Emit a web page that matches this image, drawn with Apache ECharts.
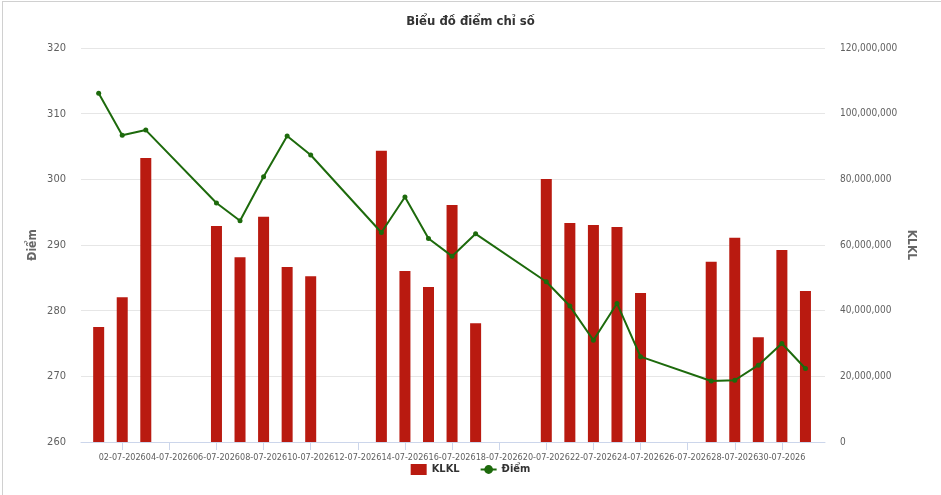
<!DOCTYPE html>
<html>
<head>
<meta charset="utf-8">
<script src="https://cdn.jsdelivr.net/npm/echarts@6/dist/echarts.min.js"></script>
<style>
  html, body { margin: 0; padding: 0; background: #fff; }
  #main { position: absolute; left: 0; top: 0; width: 941px; height: 495px; }
  .edge { position: absolute; background: #d0d0d0; }
</style>
</head>
<body>
<div id="main"></div>
<div class="edge" style="left:2px;top:1px;width:939px;height:1px;"></div>
<div class="edge" style="left:2px;top:1px;width:1px;height:494px;"></div>
<script type="text/javascript">
    // ngày giao dịch
    var dates = ['01-07-2026', '02-07-2026', '03-07-2026', '06-07-2026', '07-07-2026', '08-07-2026',
        '09-07-2026', '10-07-2026', '13-07-2026', '14-07-2026', '15-07-2026', '16-07-2026',
        '17-07-2026', '20-07-2026', '21-07-2026', '22-07-2026', '23-07-2026', '24-07-2026',
        '27-07-2026', '28-07-2026', '29-07-2026', '30-07-2026', '31-07-2026'];
    // khối lượng khớp lệnh
    var klkl = [35000000, 44100000, 86500000, 65800000, 56300000, 68600000,
        53300000, 50500000, 88700000, 52100000, 47200000, 72200000,
        36200000, 80100000, 66700000, 66100000, 65500000, 45400000,
        54900000, 62200000, 31900000, 58500000, 46000000];
    // điểm chỉ số
    var diem = [313.1, 306.7, 307.5, 296.4, 293.7, 300.4,
        306.6, 303.7, 291.9, 297.3, 291.0, 288.3,
        291.7, 284.4, 280.7, 275.5, 281.1, 273.0,
        269.3, 269.4, 271.7, 275.0, 271.2];
    // nhãn trục x (ngày chẵn)
    var tickDays = [2, 4, 6, 8, 10, 12, 14, 16, 18, 20, 22, 24, 26, 28, 30];

    var dayOf = function (s) { return parseInt(s.split('-')[0], 10); };
    var pad = function (n) { return (n < 10 ? '0' : '') + n; };

    var barData = [], lineData = [];
    for (var i = 0; i < dates.length; i++) {
        barData.push([dayOf(dates[i]), klkl[i]]);
        lineData.push([dayOf(dates[i]), diem[i]]);
    }

    var font = '"DejaVu Sans Condensed", "Liberation Sans Narrow", "Noto Sans", sans-serif';
    var myChart = echarts.init(document.getElementById('main'));

    var option = {
        animation: false,
        textStyle: { fontFamily: font },
        title: {
            text: 'Biểu đồ điểm chỉ số',
            left: 'center',
            top: 10,
            textStyle: { fontFamily: font, fontSize: 13, fontWeight: 'bold', color: '#333333' }
        },
        legend: {
            bottom: 15,
            left: 'center',
            itemGap: 20,
            itemWidth: 16,
            itemHeight: 11,
            textStyle: { fontFamily: font, fontSize: 11, fontWeight: 'bold', color: '#333333' },
            data: [
                { name: 'KLKL', icon: 'rect' },
                { name: 'Điểm' }
            ]
        },
        grid: { left: 81, right: 116, top: 48, bottom: 53 },
        xAxis: {
            type: 'value',
            min: 0.25,
            max: 31.83,
            axisLine: { show: true, lineStyle: { color: '#ccd6eb' } },
            axisTick: { show: true, customValues: tickDays, length: 8, lineStyle: { color: '#ccd6eb' } },
            axisLabel: {
                customValues: tickDays,
                showMinLabel: true,
                showMaxLabel: true,
                hideOverlap: false,
                fontFamily: font,
                fontSize: 9,
                color: '#606060',
                margin: 11,
                formatter: function (v) { return pad(v) + '-07-2026'; }
            },
            splitLine: { show: false }
        },
        yAxis: [{
            type: 'value',
            name: 'Điểm',
            nameLocation: 'middle',
            nameMoveOverlap: false,
            nameGap: 42,
            nameRotate: 90,
            nameTextStyle: { fontFamily: font, fontSize: 12, fontWeight: 'bold', color: '#666666' },
            min: 260,
            max: 320,
            interval: 10,
            axisLine: { show: false },
            axisTick: { show: false },
            axisLabel: { fontFamily: font, fontSize: 11, color: '#606060', margin: 15 },
            splitLine: { lineStyle: { color: '#e6e6e6' } }
        }, {
            type: 'value',
            name: 'KLKL',
            nameLocation: 'middle',
            nameMoveOverlap: false,
            nameGap: 80,
            nameRotate: -90,
            nameTextStyle: { fontFamily: font, fontSize: 12, fontWeight: 'bold', color: '#666666' },
            min: 0,
            max: 120000000,
            interval: 20000000,
            axisLine: { show: false },
            axisTick: { show: false },
            axisLabel: {
                fontFamily: font, fontSize: 10, color: '#606060', margin: 15,
                formatter: function (v) { return v.toString().replace(/\B(?=(\d{3})+(?!\d))/g, ','); }
            },
            splitLine: { show: false }
        }],
        series: [{
            name: 'KLKL',
            type: 'bar',
            yAxisIndex: 1,
            barWidth: 11,
            itemStyle: { color: '#b91a10' },
            data: barData
        }, {
            name: 'Điểm',
            type: 'line',
            yAxisIndex: 0,
            symbol: 'circle',
            symbolSize: 5,
            lineStyle: { color: '#1d6a0c', width: 2 },
            itemStyle: { color: '#1d6a0c' },
            data: lineData
        }]
    };
    myChart.setOption(option, true);
</script>
</body>
</html>
